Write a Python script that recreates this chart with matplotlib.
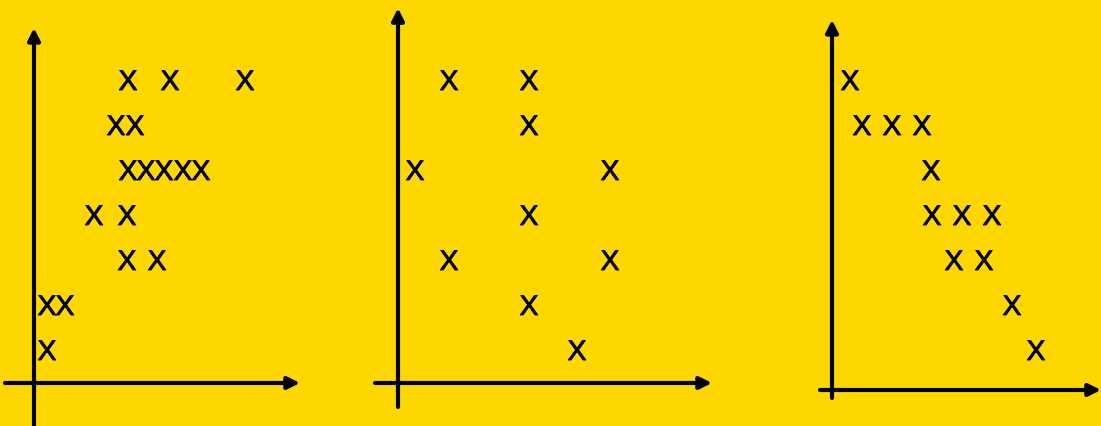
import matplotlib
matplotlib.use('Agg')
import matplotlib.pyplot as plt
import matplotlib.patheffects as pe

# three dot plots drawn with "X" marks, rows 1 (bottom) .. 7 (top)
# x values = distance from the vertical axis
p1_x = [1.3, 1.3, 3.1, 9.3, 12.3, 6.0, 9.3, 9.4, 11.2, 13.0, 14.9, 16.7, 8.2, 10.1, 9.4, 13.6, 21.1]
p1_y = [1, 2, 2, 3, 3, 4, 4, 5, 5, 5, 5, 5, 6, 6, 7, 7, 7]

p2_x = [17.9, 13.1, 5.1, 21.2, 13.1, 1.7, 21.2, 13.1, 5.1, 13.1]
p2_y = [1, 2, 3, 3, 4, 5, 5, 6, 7, 7]

p3_x = [20.4, 18.0, 12.2, 15.2, 10.0, 13.0, 16.0, 9.9, 3.0, 6.0, 9.0, 1.8]
p3_y = [1, 2, 3, 3, 4, 4, 4, 5, 6, 6, 6, 7]

bg = '#FFD700'
W, H = 1101, 426

fig = plt.figure(figsize=(W/100, H/100), dpi=100)
fig.patch.set_facecolor(bg)

def panel(left, right, axis_px, xs, ys, vline, hline):
    ax = fig.add_axes([left/W, 0, (right-left)/W, 1])
    ax.set_facecolor(bg)
    ax.set_xlim(-(axis_px-left)/10, (right-axis_px)/10)
    ax.set_ylim(-0.667, 8.8)
    ax.axis('off')
    arrow = dict(arrowstyle='-|>', lw=3.0, color='black',
                 mutation_scale=18, shrinkA=0, shrinkB=0)
    # vertical axis: (bottom, tip)
    ax.annotate('', xy=(0, vline[1]), xytext=(0, vline[0]), arrowprops=arrow)
    # horizontal axis: (y, x start, x tip)
    ax.annotate('', xy=(hline[2], hline[0]), xytext=(hline[1], hline[0]), arrowprops=arrow)
    for x, y in zip(xs, ys):
        ax.text(x, y - 0.045, 'X', ha='center', va='center', fontsize=20.5,
                family='Liberation Sans', color='black',
                path_effects=[pe.withStroke(linewidth=0.6, foreground='black')])
    return ax

panel(0, 330, 34, p1_x, p1_y, (-0.8, 8.18), (0.289, -2.9, 26.6))
panel(360, 740, 398, p2_x, p2_y, (-0.244, 8.62), (0.289, -2.3, 31.4))
panel(800, 1101, 832, p3_x, p3_y, (-0.044, 8.36), (0.133, -1.2, 26.9))

fig.savefig('out.png', dpi=100, facecolor=bg)
